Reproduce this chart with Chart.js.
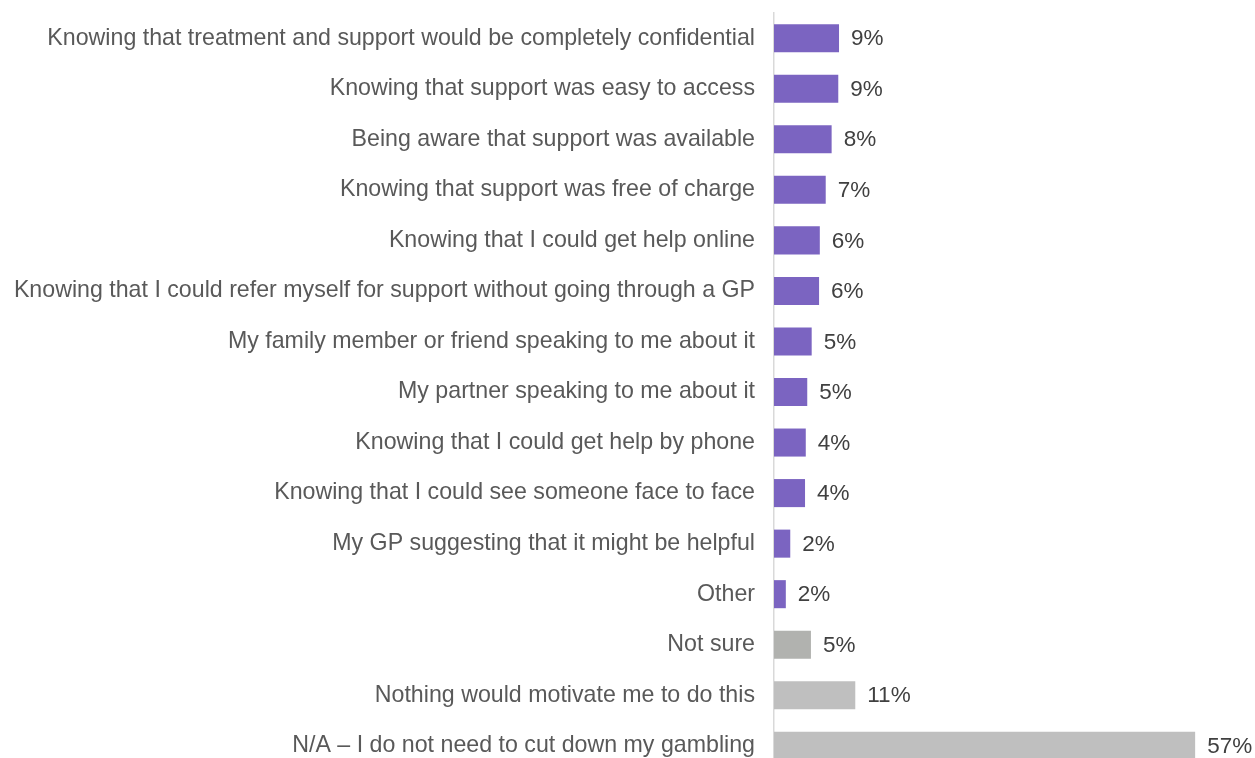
<!DOCTYPE html>
<html><head><meta charset="utf-8">
<script src="https://cdn.jsdelivr.net/npm/chart.js@4"></script>
<style>html,body{margin:0;padding:0;background:#fff;overflow:hidden;height:758px}#wrap{width:1255px;height:824px;position:relative;margin-top:-20px}</style>
</head><body><div id="wrap"><canvas id="c"></canvas></div>
<script>
const categories = [
  "Knowing that treatment and support would be completely confidential",
  "Knowing that support was easy to access",
  "Being aware that support was available",
  "Knowing that support was free of charge",
  "Knowing that I could get help online",
  "Knowing that I could refer myself for support without going through a GP",
  "My family member or friend speaking to me about it",
  "My partner speaking to me about it",
  "Knowing that I could get help by phone",
  "Knowing that I could see someone face to face",
  "My GP suggesting that it might be helpful",
  "Other",
  "Not sure",
  "Nothing would motivate me to do this",
  "N/A \u2013 I do not need to cut down my gambling"
];
const values = [8.8, 8.7, 7.8, 7.0, 6.2, 6.1, 5.1, 4.5, 4.3, 4.2, 2.2, 1.6, 5.0, 11.0, 57.0];
const valueLabels = ["9%","9%","8%","7%","6%","6%","5%","5%","4%","4%","2%","2%","5%","11%","57%"];
const barColors = ["#7B64C1","#7B64C1","#7B64C1","#7B64C1","#7B64C1","#7B64C1","#7B64C1","#7B64C1","#7B64C1","#7B64C1","#7B64C1","#7B64C1","#B1B2AF","#BFBFBF","#BFBFBF"];

const labelPlugin = {
  id: 'valLabels',
  afterDatasetsDraw(chart) {
    const ctx = chart.ctx;
    const meta = chart.getDatasetMeta(0);
    ctx.save();
    ctx.font = '22.5px "Liberation Sans", Arial, sans-serif';
    ctx.fillStyle = '#404040';
    ctx.textAlign = 'left';
    ctx.textBaseline = 'middle';
    meta.data.forEach((bar, i) => {
      ctx.fillText(valueLabels[i], bar.x + 12, bar.y + 1);
    });
    ctx.restore();
  }
};

new Chart(document.getElementById('c'), {
  type: 'bar',
  data: {
    labels: categories,
    datasets: [{
      data: values,
      backgroundColor: barColors,
      borderWidth: 0,
      barPercentage: 0.555,
      categoryPercentage: 1.0
    }]
  },
  options: {
    indexAxis: 'y',
    responsive: true,
    maintainAspectRatio: false,
    animation: false,
    layout: { padding: 0 },
    plugins: { legend: { display: false }, tooltip: { enabled: false } },
    scales: {
      x: {
        min: 0, max: 65.1,
        display: false,
        grid: { display: false }
      },
      y: {
        afterFit(scale) { scale.width = 774; },
        grid: { display: false, drawTicks: false },
        border: { display: true, color: '#D9D9D9', width: 1.5 },
        ticks: {
          padding: 19,
          color: '#595959',
          font: { family: '"Liberation Sans", Arial, sans-serif', size: 23.2 }
        }
      }
    }
  },
  plugins: [labelPlugin]
});
</script></body></html>
